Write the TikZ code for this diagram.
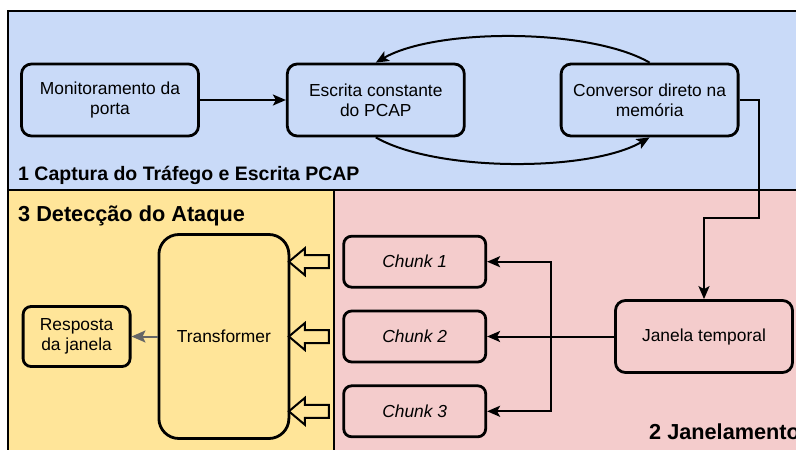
\documentclass[tikz,border=0pt]{standalone}
\usepackage{fontspec}
\setmainfont{Liberation Sans}
\usetikzlibrary{
  arrows.meta,
  positioning,
  shapes.arrows,
}
\definecolor{capblue}{RGB}{201,218,248}
\definecolor{detyellow}{RGB}{255,229,153}
\definecolor{janpink}{RGB}{244,204,204}
\definecolor{respgray}{RGB}{102,102,102}
\tikzstyle{panel} = [draw, line width=2pt]
\tikzstyle{box} = [
  rectangle,
  draw,
  line width=2.8pt,
  rounded corners=10pt,
  align=center,
  font=\fontsize{17.4}{20}\selectfont,
]
\tikzstyle{arrow} = [
  -{Stealth[length=13pt,width=11pt,inset=3pt]},
  line width=2pt,
]
\tikzstyle{feed} = [
  single arrow,
  draw,
  fill=detyellow,
  line width=2pt,
  shape border rotate=180,
  minimum height=40pt,
  inner sep=5.5pt,
  single arrow head extend=7pt,
  single arrow tip angle=80,
]
\tikzstyle{stagetitle} = [inner sep=0pt, anchor=base west, font=\bfseries\fontsize{21.7}{24}\selectfont]

\begin{document}
\begin{tikzpicture}[x=1pt,y=-1pt,node distance=21pt and 86pt]

      \useasboundingbox (0,0) rectangle (796,450);

      % stage panels
      \draw[panel,fill=capblue] (8,10.5) rectangle (810,190);
      \draw[panel,fill=detyellow] (8,190) rectangle (334,470);
      \draw[panel,fill=janpink] (334,190) rectangle (810,470);

      \node[box,fill=capblue,minimum width=177pt,minimum height=72pt] (mon) at (110,100) {Monitoramento da\\porta};
      \node[box,fill=capblue,minimum width=177pt,minimum height=72pt] (esc) [right=86pt of mon] {Escrita constante\\do PCAP};
      \node[box,fill=capblue,minimum width=177pt,minimum height=72pt] (conv) [right=94pt of esc] {Conversor direto na\\memória};

      \node[box,fill=janpink,minimum width=177pt,minimum height=72pt] (jan) at (704,336.5) {Janela temporal};
      \node[box,fill=janpink,minimum width=142pt,minimum height=51pt,rounded corners=8pt] (chunk2) [left=127pt of jan] {\itshape Chunk 2};
      \node[box,fill=janpink,minimum width=142pt,minimum height=51pt,rounded corners=8pt] (chunk1) [above=of chunk2] {\itshape Chunk 1};
      \node[box,fill=janpink,minimum width=142pt,minimum height=51pt,rounded corners=8pt] (chunk3) [below=of chunk2] {\itshape Chunk 3};

      \node[box,fill=detyellow,minimum width=130pt,minimum height=204pt,rounded corners=20pt] (trans) [left=52pt of chunk2] {Transformer};
      \node[box,fill=detyellow,minimum width=107pt,minimum height=60pt,rounded corners=8pt] (resp) [left=26pt of trans] {Resposta\\da janela};

      \node[feed,anchor=tip,xshift=-3pt] (in1) at (trans.east |- chunk1.west) {};
      \node[feed,anchor=tip,xshift=-3pt] (in2) at (trans.east |- chunk2.west) {};
      \node[feed,anchor=tip,xshift=-3pt] (in3) at (trans.east |- chunk3.west) {};

      \node[stagetitle,font=\bfseries\fontsize{19.5}{22}\selectfont] (cap) at (18,180.5) {1 Captura do Tráfego e Escrita PCAP};
      \node[stagetitle] (det) at (18,221.5) {3 Detecção do Ataque};
      \node[stagetitle] (jnl) at (649,439) {2 Janelamento};

      \coordinate (drop) at (759,218);
      \coordinate (split) at (550.5,336.5);

      \draw[arrow] (mon) -- (esc);
      \draw[arrow] (conv.north) to[out=150,in=30,looseness=0.65] (esc.north);
      \draw[arrow] (esc.south) to[out=-30,in=-150,looseness=0.65] (conv.south);
      \draw[arrow] (conv.east) -| (drop) -| (jan.north);

      \draw[arrow] (jan.west) -- (chunk2.east);
      \draw[arrow] (split) |- (chunk1.east);
      \draw[arrow] (split) |- (chunk3.east);

      \draw[-{Stealth[length=14pt,width=12pt,inset=3pt]},line width=2pt,respgray] (trans.west) -- (resp.east);

    \end{tikzpicture}
\end{document}
